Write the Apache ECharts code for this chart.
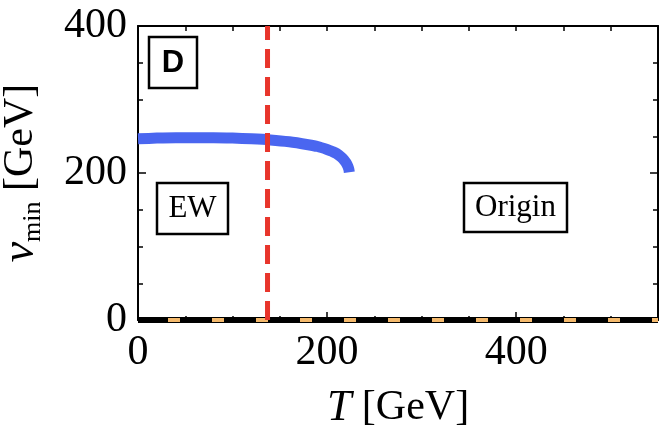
<!DOCTYPE html>
<html>
<head>
<meta charset="utf-8">
<script src="https://cdn.jsdelivr.net/npm/echarts@6/dist/echarts.min.js"></script>
<style>html,body{margin:0;padding:0;background:#fff}#c{width:662px;height:430px}</style>
</head>
<body>
<div id="c"></div>
<script>
// ---- data ----
const ewT = [0, 20, 40, 60, 80, 100, 120, 140, 160, 180, 190, 200, 205, 210, 215, 218, 220, 222, 223, 223.5];
const ewV = [246.5, 247.5, 248, 248, 248, 247.5, 246.5, 245, 242.5, 238.5, 236, 232, 229.5, 226.5, 221.5, 217.5, 214, 209, 205, 201];
const originT = [0, 550];
const originV = [0, 0];
const tcT = [137, 137];
const tcV = [0, 400];
const xTicks = [0, 200, 400];
const yTicks = [0, 200, 400];
const xRange = [0, 550];
const yRange = [0, 400];

const zip = (a, b) => a.map((x, i) => [x, b[i]]);
const serif = 'Liberation Serif';

const chart = echarts.init(document.getElementById('c'), null, {renderer: 'canvas'});
chart.setOption({
  animation: false,
  backgroundColor: '#fff',
  grid: {left: 138, right: 4, top: 26, bottom: 110, containLabel: false, outerBoundsMode: 'none'},
  xAxis: [
    {type: 'value', position: 'bottom', min: xRange[0], max: xRange[1], interval: 200,
     axisLine: {show: true, onZero: false, lineStyle: {color: '#000', width: 2}},
     axisTick: {show: true, inside: true, length: 8, lineStyle: {color: '#000', width: 1.5}},
     axisLabel: {show: true, showMaxLabel: false, margin: 12, color: '#000', fontFamily: serif, fontSize: 42,
       formatter: v => xTicks.includes(v) ? String(v) : ''},
     splitLine: {show: false},
     name: '{t|T}{g| [GeV]}', nameLocation: 'middle', nameGap: 66,
     nameTextStyle: {color: '#000', rich: {
       t: {fontFamily: serif, fontStyle: 'italic', fontSize: 44, color: '#000'},
       g: {fontFamily: serif, fontSize: 42, color: '#000'}}}},
    {type: 'value', position: 'bottom', min: xRange[0], max: xRange[1], interval: 50,
     axisLine: {show: false, onZero: false},
     axisTick: {show: true, inside: true, length: 4, lineStyle: {color: '#000', width: 1.5}},
     axisLabel: {show: false}, splitLine: {show: false}},
    {type: 'value', position: 'top', min: xRange[0], max: xRange[1], interval: 50,
     axisLine: {show: true, onZero: false, lineStyle: {color: '#000', width: 2}},
     axisTick: {show: true, inside: true, length: 5, lineStyle: {color: '#000', width: 1.5}},
     axisLabel: {show: false}, splitLine: {show: false}}
  ],
  yAxis: [
    {type: 'value', position: 'left', min: yRange[0], max: yRange[1], interval: 200,
     axisLine: {show: true, onZero: false, lineStyle: {color: '#000', width: 2}},
     axisTick: {show: true, inside: true, length: 8, lineStyle: {color: '#000', width: 1.5}},
     minorTick: {show: true, splitNumber: 4, length: 5, lineStyle: {color: '#000', width: 1.5}},
     axisLabel: {show: true, margin: 11, color: '#000', fontFamily: serif, fontSize: 42,
       formatter: v => yTicks.includes(v) ? String(v) : ''},
     splitLine: {show: false}, minorSplitLine: {show: false},
     name: '{v|v}{s|min}{g| [GeV]}', nameLocation: 'middle', nameGap: 92,
     nameTextStyle: {color: '#000', rich: {
       v: {fontFamily: serif, fontStyle: 'italic', fontSize: 46, lineHeight: 50, color: '#000'},
       s: {fontFamily: serif, fontSize: 26, lineHeight: 26, verticalAlign: 'bottom', color: '#000'},
       g: {fontFamily: serif, fontSize: 42, lineHeight: 50, color: '#000'}}}},
    {type: 'value', position: 'right', min: yRange[0], max: yRange[1], interval: 200,
     axisLine: {show: true, onZero: false, lineStyle: {color: '#000', width: 2}},
     axisTick: {show: true, inside: true, length: 8, lineStyle: {color: '#000', width: 1.5}},
     minorTick: {show: true, splitNumber: 4, length: 5, lineStyle: {color: '#000', width: 1.5}},
     axisLabel: {show: false}, splitLine: {show: false}, minorSplitLine: {show: false}}
  ],
  series: [
    {type: 'line', name: 'EW', data: zip(ewT, ewV), showSymbol: false, symbol: 'none', smooth: 0.3,
     lineStyle: {color: '#4a66f0', width: 11, cap: 'butt'}, z: 3, clip: false},
    {type: 'line', name: 'Origin', data: zip(originT, originV), symbol: 'none', clip: false,
     lineStyle: {color: '#000', width: 6, cap: 'butt'}, z: 4},
    {type: 'line', name: 'Origin2', data: zip(originT, originV), symbol: 'none', clip: false,
     lineStyle: {color: '#f4b96c', width: 4, type: [12, 32], dashOffset: 14, cap: 'butt'}, z: 5},
    {type: 'line', name: 'Tc', data: zip(tcT, tcV), symbol: 'none', clip: false,
     lineStyle: {color: '#e8352b', width: 5, type: [19, 9], cap: 'butt'}, z: 6}
  ],
  graphic: [
    {type: 'rect', shape: {x: 149, y: 37, width: 48, height: 51}, style: {fill: '#fff', stroke: '#000', lineWidth: 2.5}, z: 10},
    {type: 'text', x: 173, y: 63, style: {text: 'D', font: 'bold 31px "Liberation Sans"', fill: '#000', textAlign: 'center', textVerticalAlign: 'middle'}, z: 11},
    {type: 'rect', shape: {x: 157, y: 183, width: 71, height: 51}, style: {fill: '#fff', stroke: '#000', lineWidth: 2.5}, z: 10},
    {type: 'text', x: 192.5, y: 209, style: {text: 'EW', font: '31px "Liberation Serif"', fill: '#000', textAlign: 'center', textVerticalAlign: 'middle'}, z: 11},
    {type: 'rect', shape: {x: 464, y: 183, width: 103, height: 49}, style: {fill: '#fff', stroke: '#000', lineWidth: 2.5}, z: 10},
    {type: 'text', x: 515.5, y: 208, style: {text: 'Origin', font: '31px "Liberation Serif"', fill: '#000', textAlign: 'center', textVerticalAlign: 'middle'}, z: 11}
  ]
});
</script>
</body>
</html>
